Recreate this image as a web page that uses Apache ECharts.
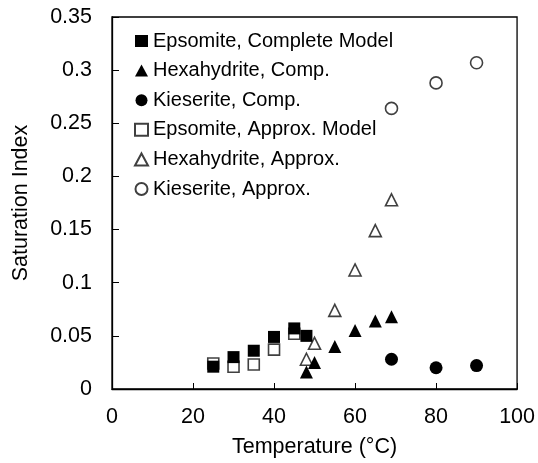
<!DOCTYPE html>
<html lang="en">
<head>
  <meta charset="UTF-8">
  <title>Saturation Index</title>
  <script src="https://cdn.jsdelivr.net/npm/echarts@6/dist/echarts.min.js"></script>
  <style>
    html, body {
      margin: 0;
      padding: 0;
      background: #fff;
    }

    #main {
      width: 538px;
      height: 463px;
    }
  </style>
</head>
<body>
<div id="main"></div>
<script>
  // values: temperature (°C) and saturation index
  var epsomiteCompT = [25, 30, 35, 40, 45, 48];
  var epsomiteCompSI = [0.021, 0.030, 0.036, 0.049, 0.057, 0.050];
  var hexaCompT = [48, 50, 55, 60, 65, 69];
  var hexaCompSI = [0.016, 0.025, 0.040, 0.055, 0.064, 0.068];
  var kieseriteCompT = [69, 80, 90];
  var kieseriteCompSI = [0.028, 0.020, 0.022];
  var epsomiteApproxT = [25, 30, 35, 40, 45];
  var epsomiteApproxSI = [0.024, 0.021, 0.023, 0.037, 0.052];
  var hexaApproxT = [48, 50, 55, 60, 65, 69];
  var hexaApproxSI = [0.028, 0.043, 0.074, 0.112, 0.149, 0.178];
  var kieseriteApproxT = [69, 80, 90];
  var kieseriteApproxSI = [0.264, 0.288, 0.307];

  var seriesNames = [
    'Epsomite, Complete Model',
    'Hexahydrite, Comp.',
    'Kieserite, Comp.',
    'Epsomite, Approx. Model',
    'Hexahydrite, Approx.',
    'Kieserite, Approx.'
  ];
  var xTicks = [0, 20, 40, 60, 80, 100];
  var yTicks = [0, 0.05, 0.1, 0.15, 0.2, 0.25, 0.3, 0.35];

  var font = '"Liberation Sans", Arial, sans-serif';

  function pairs(xs, ys) {
    var out = [];
    for (var i = 0; i < xs.length; i++) {
      out.push([xs[i], ys[i]]);
    }
    return out;
  }

  // filled markers sit on top of the open ones
  function filled(name, symbol, xs, ys, size) {
    return {
      name: name,
      type: 'scatter',
      z: 4,
      symbol: symbol,
      symbolSize: size,
      itemStyle: {color: '#000', opacity: 1},
      data: pairs(xs, ys)
    };
  }

  function open(name, symbol, xs, ys, size) {
    return {
      name: name,
      type: 'scatter',
      z: 2,
      symbol: symbol,
      symbolSize: size,
      itemStyle: {color: '#fff', borderColor: '#404040', borderWidth: 1.6, opacity: 1},
      data: pairs(xs, ys)
    };
  }

  var myChart = echarts.init(document.getElementById('main'));

  var option = {
    animation: false,
    backgroundColor: '#fff',
    textStyle: {fontFamily: font},
    grid: {
      left: 112,
      right: 19,
      top: 17,
      bottom: 71,
      show: true,
      borderColor: '#000',
      borderWidth: 1.3
    },
    legend: {
      orient: 'vertical',
      left: 129,
      top: 26,
      itemWidth: 13,
      itemHeight: 12,
      itemGap: 9.6,
      textStyle: {fontSize: 20, color: '#000', fontFamily: font},
      data: [
        {name: seriesNames[0], icon: 'rect'},
        {name: seriesNames[1], icon: 'triangle'},
        {name: seriesNames[2], icon: 'circle'},
        {name: seriesNames[3], icon: 'rect'},
        {name: seriesNames[4], icon: 'triangle'},
        {name: seriesNames[5], icon: 'circle'}
      ]
    },
    xAxis: {
      type: 'value',
      min: xTicks[0],
      max: xTicks[xTicks.length - 1],
      interval: 20,
      name: 'Temperature (°C)',
      nameLocation: 'middle',
      nameGap: 47,
      nameTextStyle: {fontSize: 21.5, color: '#000', fontFamily: font},
      axisLine: {lineStyle: {color: '#000', width: 1.3}},
      axisTick: {inside: true, length: 6, lineStyle: {color: '#000'}},
      axisLabel: {fontSize: 21.5, color: '#000', margin: 17, fontFamily: font},
      splitLine: {show: false}
    },
    yAxis: {
      type: 'value',
      min: yTicks[0],
      max: yTicks[yTicks.length - 1],
      interval: 0.05,
      name: 'Saturation Index',
      nameLocation: 'middle',
      nameGap: 80,
      nameTextStyle: {fontSize: 21.5, color: '#000', fontFamily: font},
      axisLine: {show: true, lineStyle: {color: '#000', width: 1.3}},
      axisTick: {show: true, inside: true, length: 7, lineStyle: {color: '#000'}},
      axisLabel: {
        fontSize: 21.5, color: '#000', margin: 20, fontFamily: font,
        formatter: function (v) {
          return String(Math.round(v * 100) / 100);
        }
      },
      splitLine: {show: false}
    },
    series: [
      filled(seriesNames[0], 'rect', epsomiteCompT, epsomiteCompSI, 12),
      filled(seriesNames[1], 'triangle', hexaCompT, hexaCompSI, 13),
      filled(seriesNames[2], 'circle', kieseriteCompT, kieseriteCompSI, 13),
      open(seriesNames[3], 'rect', epsomiteApproxT, epsomiteApproxSI, 11),
      open(seriesNames[4], 'triangle', hexaApproxT, hexaApproxSI, 12),
      open(seriesNames[5], 'circle', kieseriteApproxT, kieseriteApproxSI, 12)
    ]
  };

  myChart.setOption(option);
</script>
</body>
</html>
